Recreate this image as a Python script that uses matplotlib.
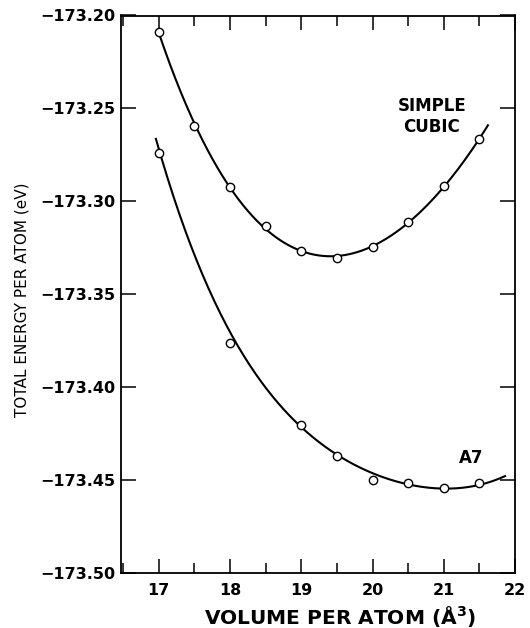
import numpy as np
import matplotlib
matplotlib.use('Agg')
import matplotlib.pyplot as plt
from matplotlib.ticker import FuncFormatter, MultipleLocator

# calculated points (volume in A^3, total energy in eV)
volume_sc = [17.0, 17.5, 18.0, 18.5, 19.0, 19.5, 20.0, 20.5, 21.0, 21.5]
energy_sc = [-173.2087, -173.2595, -173.2923, -173.3135, -173.3267,
             -173.3304, -173.3246, -173.3111, -173.2918, -173.2666]

volume_a7 = [17.0, 18.0, 19.0, 19.5, 20.0, 20.5, 21.0, 21.5]
energy_a7 = [-173.2740, -173.3764, -173.4204, -173.4371, -173.4500,
             -173.4514, -173.4545, -173.4518]

# smooth A7 curve as traced in the figure (it misses the 18.0 point)
trace_v_a7 = [16.96, 17.2, 17.43, 18.09, 19.0, 19.5, 20.0, 20.5, 21.0, 21.5, 21.86]
trace_e_a7 = [-173.265, -173.2993, -173.3208, -173.3763, -173.4204, -173.437,
              -173.4475, -173.4514, -173.4545, -173.4525, -173.448]

sc_span = (17.0, 21.62)
a7_span = (16.96, 21.86)

x_ticks = [17, 18, 19, 20, 21, 22]
y_ticks = [-173.20, -173.25, -173.30, -173.35, -173.40, -173.45, -173.50]

plt.rcParams['font.family'] = ['DejaVu Sans']
plt.rcParams['font.weight'] = 'bold'
plt.rcParams['mathtext.default'] = 'bf'

fig = plt.figure(figsize=(5.30, 6.28), dpi=100)
ax = fig.add_axes([121 / 530, 1 - 573 / 628, 394 / 530, 557.5 / 628])

# fitted curves
p_sc = np.polyfit(volume_sc, energy_sc, 4)
v = np.linspace(sc_span[0], sc_span[1], 300)
ax.plot(v, np.polyval(p_sc, v), color='black', lw=1.5, zorder=2)

p_a7 = np.polyfit(trace_v_a7, trace_e_a7, 4)
v = np.linspace(a7_span[0], a7_span[1], 300)
ax.plot(v, np.polyval(p_a7, v), color='black', lw=1.5, zorder=2)

# data points
for xs, ys in [(volume_sc, energy_sc), (volume_a7, energy_a7)]:
    ax.plot(xs, ys, 'o', ms=6, mfc='white', mec='black', mew=1.0, zorder=3)

ax.set_xlim(16.47, 22.0)
ax.set_ylim(-173.50, -173.20)
ax.set_xticks(x_ticks)
ax.xaxis.set_minor_locator(MultipleLocator(0.5))
ax.set_yticks(y_ticks)
ax.yaxis.set_major_formatter(FuncFormatter(lambda y, _: f'{y:.2f}'.replace('-', '\u2212')))

ax.tick_params(axis='x', which='major', direction='in', length=10, width=1.1,
               top=True, labelsize=11.5, pad=7)
ax.tick_params(axis='x', which='minor', direction='in', length=7, width=1.1, top=True)
ax.tick_params(axis='y', which='major', direction='in', length=11, width=1.1,
               right=True, labelsize=11.5, pad=4)
for s in ax.spines.values():
    s.set_linewidth(1.3)

ax.text(20.835, -173.2487, 'SIMPLE', ha='center', va='center', fontsize=12, fontweight='bold')
ax.text(20.835, -173.2600, 'CUBIC', ha='center', va='center', fontsize=12, fontweight='bold')
ax.text(21.39, -173.4382, 'A7', ha='center', va='center', fontsize=12, fontweight='bold')

fig.text(340 / 530, 1 - 624 / 628, r'VOLUME PER ATOM ($\AA^{3}$)',
         ha='center', va='baseline', fontsize=14.5, fontweight='bold')
fig.text(22 / 530, 1 - 300 / 628, 'TOTAL ENERGY PER ATOM (eV)', rotation=90,
         ha='center', va='center', fontsize=11, fontweight='normal')

fig.savefig('out.png', dpi=100)
